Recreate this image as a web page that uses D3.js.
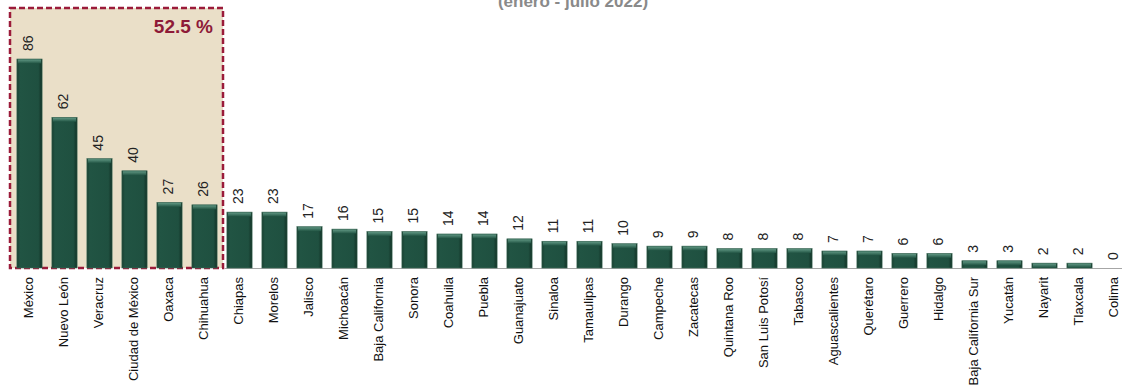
<!DOCTYPE html>
<html lang="es">
<head>
<meta charset="utf-8" />
<title>Casos por entidad</title>
<script src="https://d3js.org/d3.v7.min.js"></script>
<style>
    body { margin: 0; background: #fff; font-family: "Liberation Sans", Arial, sans-serif; }
    svg { display: block; }
</style>
</head>
<body>
<script>
// datos
const estados = ["México", "Nuevo León", "Veracruz", "Ciudad de México", "Oaxaca", "Chihuahua",
    "Chiapas", "Morelos", "Jalisco", "Michoacán", "Baja California", "Sonora", "Coahuila", "Puebla",
    "Guanajuato", "Sinaloa", "Tamaulipas", "Durango", "Campeche", "Zacatecas", "Quintana Roo",
    "San Luis Potosí", "Tabasco", "Aguascalientes", "Querétaro", "Guerrero", "Hidalgo",
    "Baja California Sur", "Yucatán", "Nayarit", "Tlaxcala", "Colima"];
const casos = [86, 62, 45, 40, 27, 26, 23, 23, 17, 16, 15, 15, 14, 14, 12, 11, 11, 10, 9, 9, 8, 8, 8,
    7, 7, 6, 6, 3, 3, 2, 2, 0];
const resaltados = 6;          // primeros estados dentro del recuadro
const porcentaje = "52.5 %";
const subtitulo = "(enero - julio 2022)";

const W = 1122, H = 387;
const svg = d3.select("body").append("svg").attr("width", W).attr("height", H);

const x = d3.scaleBand().domain(estados).range([12, 1132]).paddingInner(0.28).paddingOuter(0.14);
const y = d3.scaleLinear().domain([0, 86]).range([268, 59]);

// degradados de las barras
const defs = svg.append("defs");
const g1 = defs.append("linearGradient").attr("id", "barra").attr("x1", 0).attr("x2", 1);
g1.append("stop").attr("offset", "0%").attr("stop-color", "#173f30");
g1.append("stop").attr("offset", "12%").attr("stop-color", "#215443");
g1.append("stop").attr("offset", "85%").attr("stop-color", "#1f5040");
g1.append("stop").attr("offset", "100%").attr("stop-color", "#123226");
const g2 = defs.append("linearGradient").attr("id", "tapa").attr("x1", 0).attr("x2", 0).attr("y1", 0).attr("y2", 1);
g2.append("stop").attr("offset", "0%").attr("stop-color", "#5f9682");
g2.append("stop").attr("offset", "100%").attr("stop-color", "#215443");

// recuadro de los primeros estados
const bx0 = x(estados[0]) - x.step() * x.paddingOuter() - 2;
const bx1 = x(estados[resaltados - 1]) + x.bandwidth() + x.step() * x.paddingInner() / 2 + 1;
svg.append("rect")
    .attr("x", bx0).attr("y", 8)
    .attr("width", bx1 - bx0).attr("height", y(0) - 8)
    .attr("fill", "#eadfc8")
    .attr("stroke", "#9b1b3a")
    .attr("stroke-width", 2.5)
    .attr("stroke-dasharray", "6,3");

svg.append("text")
    .attr("x", bx1 - 10).attr("y", 33)
    .attr("text-anchor", "end")
    .attr("font-size", 19).attr("font-weight", "bold")
    .attr("fill", "#8e1a38")
    .text(porcentaje);

// subtitulo cortado arriba
svg.append("text")
    .attr("x", 573).attr("y", 7)
    .attr("text-anchor", "middle")
    .attr("font-size", 17).attr("font-weight", "bold")
    .attr("fill", "#8a8a8a")
    .text(subtitulo);

// linea base (a la derecha del recuadro)
svg.append("line")
    .attr("x1", bx1 + 1.5).attr("x2", W)
    .attr("y1", y(0) + 0.5).attr("y2", y(0) + 0.5)
    .attr("stroke", "#a6a6a6").attr("stroke-width", 1.2);

// barras
const barras = svg.selectAll("g.barra")
    .data(estados)
    .enter()
    .append("g")
    .attr("class", "barra");

barras.append("rect")
    .attr("x", d => x(d))
    .attr("y", (d, i) => y(casos[i]))
    .attr("width", x.bandwidth())
    .attr("height", (d, i) => y(0) - y(casos[i]))
    .attr("fill", "url(#barra)")
    .attr("stroke", "#3c6b58")
    .attr("stroke-width", 0.6);

barras.filter((d, i) => casos[i] > 0).append("rect")
    .attr("x", d => x(d) + 1)
    .attr("y", (d, i) => y(casos[i]) + 0.5)
    .attr("width", x.bandwidth() - 2)
    .attr("height", (d, i) => Math.min(4, y(0) - y(casos[i]) - 0.5))
    .attr("fill", "url(#tapa)");

// etiquetas de valor
svg.selectAll("text.valor")
    .data(estados)
    .enter()
    .append("text")
    .attr("class", "valor")
    .attr("transform", (d, i) => "translate(" + (x(d) + x.bandwidth() / 2) + "," + (y(casos[i]) - 8) + ") rotate(-90)")
    .attr("dominant-baseline", "middle")
    .attr("font-size", 14)
    .attr("fill", "#222")
    .text((d, i) => casos[i]);

// nombres de estados
svg.selectAll("text.estado")
    .data(estados)
    .enter()
    .append("text")
    .attr("class", "estado")
    .attr("transform", d => "translate(" + (x(d) + x.bandwidth() / 2) + "," + (y(0) + 9) + ") rotate(-90)")
    .attr("text-anchor", "end")
    .attr("dominant-baseline", "middle")
    .attr("font-size", 13)
    .attr("fill", "#111")
    .text(d => d);
</script>
</body>
</html>
